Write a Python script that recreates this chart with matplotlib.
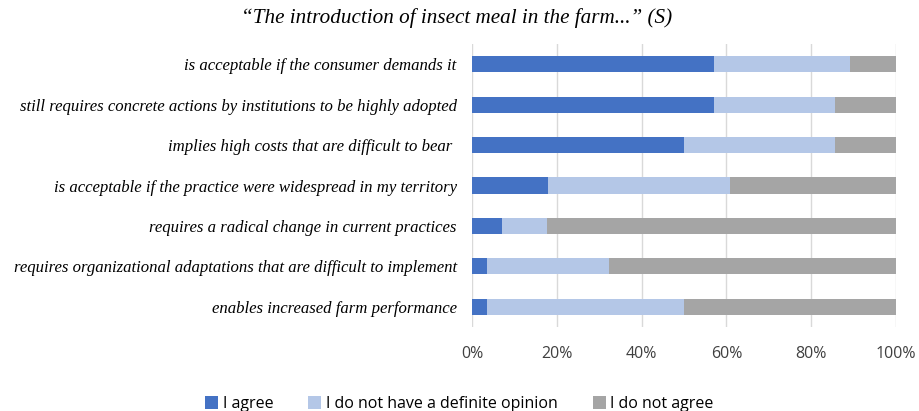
import matplotlib.pyplot as plt
import numpy as np

# survey statements, top to bottom
statements = [
    "is acceptable if the consumer demands it",
    "still requires concrete actions by institutions to be highly adopted",
    "implies high costs that are difficult to bear ",
    "is acceptable if the practice were widespread in my territory",
    "requires a radical change in current practices",
    "requires organizational adaptations that are difficult to implement",
    "enables increased farm performance",
]
agree = [57.1, 57.1, 50.0, 17.9, 7.1, 3.6, 3.6]
no_opinion = [32.1, 28.6, 35.7, 42.9, 10.7, 28.6, 46.4]
disagree = [10.7, 14.3, 14.3, 39.3, 82.1, 67.9, 50.0]

series_names = ["I agree", "I do not have a definite opinion", "I do not agree"]
colors = ["#4472C4", "#B4C7E7", "#A5A5A5"]

fig = plt.figure(figsize=(9.19, 4.11), dpi=100)
ax = fig.add_axes([472/919, 1 - 327/411, 424/919, 283/411])

y = np.arange(len(statements))
left = np.zeros(len(statements))
for vals, name, col in zip([agree, no_opinion, disagree], series_names, colors):
    ax.barh(y, vals, left=left, height=0.4, color=col, label=name, zorder=3)
    left = left + np.array(vals)

ax.set_ylim(len(statements) - 0.5, -0.5)
ax.set_xlim(0, 100)
ax.set_xticks(np.arange(0, 101, 20))
ax.set_xticklabels([f"{v}%" for v in range(0, 101, 20)],
                   fontfamily="Open Sans", fontsize=11.5, color="#404040")
ax.set_yticks(y)
ax.set_yticklabels(statements, fontfamily="Liberation Serif", fontstyle="italic",
                   fontsize=12.1, color="black")
ax.tick_params(axis="both", length=0)
ax.tick_params(axis="x", pad=14)
ax.tick_params(axis="y", pad=11)
ax.grid(axis="x", color="#D9D9D9", linewidth=1, zorder=0)
for s in ax.spines.values():
    s.set_visible(False)

fig.text(0.497, 1 - 18/411, "\u201cThe introduction of insect meal in the farm...\u201d (S)",
         ha="center", va="center", fontfamily="Liberation Serif", fontstyle="italic",
         fontsize=15.2)

fig.legend(loc="center", bbox_to_anchor=(0.5, 1 - 404/411), ncol=3, frameon=False,
           handlelength=0.8, handleheight=0.8, handletextpad=0.3, columnspacing=2.2,
           prop={"family": "Open Sans", "size": 11.5})

fig.savefig("out.png", dpi=100)
